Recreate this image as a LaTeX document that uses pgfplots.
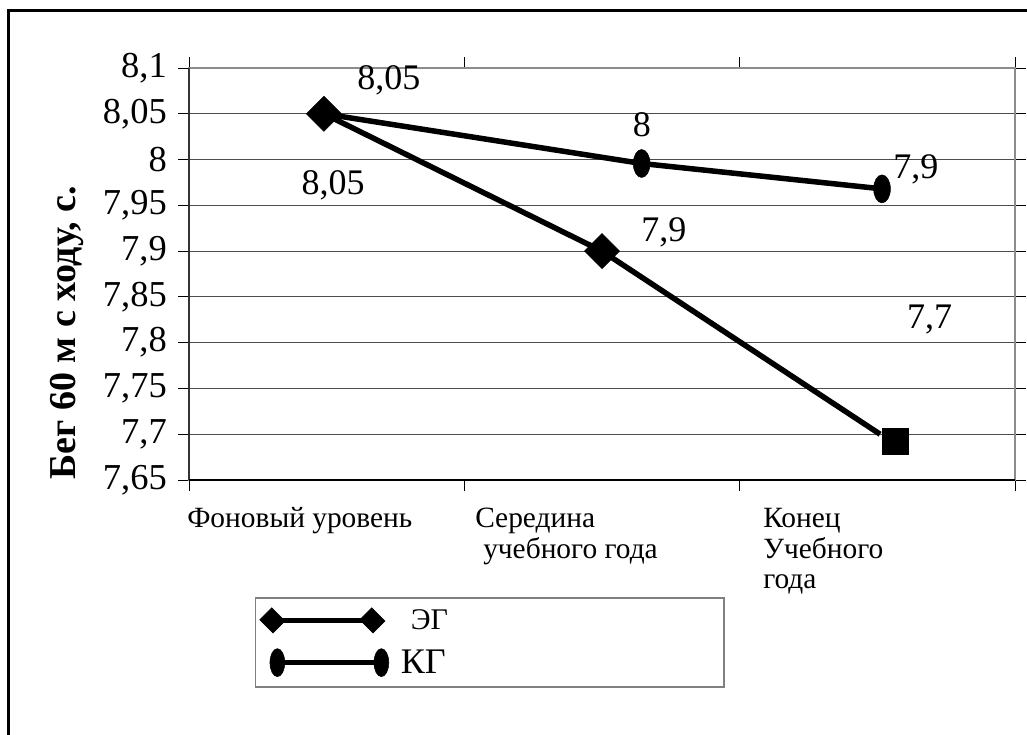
\documentclass[border=0pt]{standalone}
\usepackage{pgfplots}
\pgfplotsset{compat=1.18}
\usepackage{fontspec}
\setmainfont{Liberation Serif}
\begin{document}
\begin{tikzpicture}
\useasboundingbox (0bp,0bp) rectangle (1027bp,-735bp);
\draw[line width=3bp] (8bp,-1000bp) -- (8bp,-10bp) -- (1200bp,-10bp);
\begin{axis}[
  at={(189bp,-68bp)}, anchor=north west,
  scale only axis, width=826bp, height=412bp,
  xmin=0, xmax=3, ymin=7.65, ymax=8.1,
  xtick={0,1,2,3}, xticklabels={},
  ytick={7.65,7.7,7.75,7.8,7.85,7.9,7.95,8,8.05,8.1},
  tick align=outside, major tick length=11bp,
  tick style={black, line width=1bp},
  ymajorgrids, major grid style={gray!60!black, line width=1bp},
  axis line style={gray!90, line width=2.5bp},
  /pgf/number format/.cd, use comma, fixed, precision=2, assume math mode=true,
  /pgfplots/.cd,
  yticklabel style={font=\fontsize{36.5bp}{38bp}\selectfont, inner sep=0pt, xshift=-11bp},
  every axis y label/.style={at={(axis description cs:-0.1477,0.357)}, rotate=90, anchor=center},
  ylabel={\fontsize{38bp}{40bp}\selectfont\bfseries Бег 60 м с ходу, с.},
  clip=false,
  legend cell align=left,
  legend style={at={(axis description cs:0.0799,-0.284)}, anchor=north west,
    draw=gray, line width=1.5bp, inner xsep=4bp, inner ysep=10bp, row sep=15bp,
    nodes={inner sep=2bp}},
]
\draw[gray!40!black, line width=2bp] (rel axis cs:0,0) -- (rel axis cs:0,1);
\draw[black, line width=2bp] (rel axis cs:0,0) -- (rel axis cs:1,0);
% EG
\addplot[black, line width=5.5bp, mark=square*, mark size=12.4bp,
  mark options={rotate=45, solid, line width=0.5bp}, mark indices={1,2},
  legend image code/.code={\draw[black, line width=5bp, mark=square*, mark size=8.5bp, mark indices={1,2}, mark options={rotate=45, yscale=1.1, line width=0.5bp}] plot coordinates {(0bp,0bp) (100bp,0bp)};}]
  coordinates {(0.49,8.05) (1.5,7.9) (2.51,7.70)};
\addlegendentry{\makebox[327bp][l]{\hspace{20bp}\fontsize{30bp}{32bp}\selectfont ЭГ}}
% KG
\addplot[black, line width=5.5bp, mark=*, mark size=14bp,
  mark options={xscale=0.6, solid, line width=0.5bp}, mark indices={2,3},
  legend image code/.code={\draw[black, line width=5bp, mark=*, mark size=14bp, mark indices={1,2}, mark options={xscale=0.53, line width=0.5bp}] plot coordinates {(5bp,0bp) (109bp,0bp)};}]
  coordinates {(0.49,8.05) (1.644,7.9957) (2.517,7.968)};
\addlegendentry{\makebox[327bp][l]{\hspace{10bp}\fontsize{36bp}{38bp}\selectfont КГ}}
% square marker at end of EG
\addplot[black, only marks, mark=square*, mark size=13bp, forget plot]
  coordinates {(2.564,7.6926)};
% data labels
\begin{scope}[every node/.style={font=\fontsize{36bp}{38bp}\selectfont, inner sep=0pt}]
\node at (axis cs:0.726,8.087) {8,05};
\node at (axis cs:0.523,7.972) {8,05};
\node at (axis cs:1.645,8.038) {8};
\node at (axis cs:1.725,7.920) {7,9};
\node at (axis cs:2.64,7.989) {7,9};
\node at (axis cs:2.69,7.825) {7,7};
\end{scope}
% category labels
\begin{scope}[every node/.style={font=\fontsize{29.4bp}{32bp}\selectfont, inner sep=0pt, anchor=base west}]
\node at (axis cs:-0.007,7.5976) {Фоновый уровень};
\node at (axis cs:1.039,7.5976) {Середина};
\node at (axis cs:1.068,7.5648) {учебного года};
\node at (axis cs:2.085,7.5976) {Конец};
\node at (axis cs:2.085,7.5648) {Учебного};
\node at (axis cs:2.085,7.5320) {года};
\end{scope}
\end{axis}
\end{tikzpicture}
\end{document}
